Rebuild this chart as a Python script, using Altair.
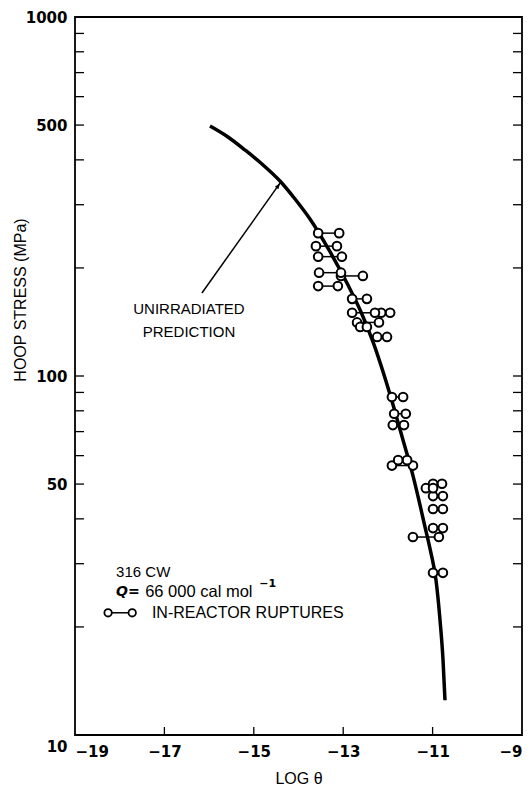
import altair as alt
import pandas as pd

# Unirradiated prediction curve (log theta vs hoop stress, MPa)
curve_logt = [-15.980, -15.577, -15.197, -14.817, -14.414, -14.078, -13.743, -13.318,
              -12.893, -12.602, -12.333, -12.065, -11.864, -11.662, -11.438, -11.170,
              -11.036, -10.924, -10.834, -10.767, -10.723]
curve_stress = [497.1, 463.3, 426.1, 389.5, 349.3, 311.2, 273.7, 224.4,
                179.2, 150.8, 124.4, 98.7, 81.4, 66.3, 52.7, 38.0,
                32.1, 27.0, 20.9, 16.2, 12.5]

# In-reactor ruptures: each pair joins a low and a high log-theta estimate
pair_lo = [-13.56, -13.61, -13.56, -13.54, -13.05, -13.56, -12.80, -12.80, -12.15,
           -12.69, -12.62, -12.24, -11.91, -11.86, -11.89, -11.91, -11.77, -11.15,
           -10.99, -10.99, -10.99, -10.99, -11.44, -10.99]
pair_hi = [-13.09, -13.14, -13.03, -13.05, -12.56, -13.12, -12.47, -12.29, -11.95,
           -12.20, -12.47, -12.02, -11.66, -11.60, -11.64, -11.44, -11.57, -10.99,
           -10.79, -10.77, -10.77, -10.77, -10.86, -10.77]
pair_stress = [250, 230, 215, 194, 190, 178, 164, 150, 150,
               141, 137, 128.5, 87.4, 78.5, 73.0, 56.3, 58.3, 48.7,
               50.1, 46.3, 42.6, 37.7, 35.6, 28.3]

# Axis ticks and labels
x_labels = [-19, -17, -15, -13, -11, -9]
x_ticks = [-17, -15, -13, -11]
y_labels = [10, 50, 100, 500, 1000]
y_ticks = [20, 30, 40, 50, 60, 70, 80, 90, 100, 200, 300, 400, 500, 600, 700, 800, 900]

W, H = 447, 718
NUM_FONT = "DejaVu Sans"
TXT_FONT = "Liberation Sans, Arial, sans-serif"

xscale = alt.Scale(domain=[-19, -9], nice=False, zero=False)
yscale = alt.Scale(type="log", domain=[10, 1000], nice=False)

curve_df = pd.DataFrame({"logt": curve_logt, "stress": curve_stress})
pairs_df = pd.DataFrame({"lo": pair_lo, "hi": pair_hi, "stress": pair_stress})
pts_df = pd.concat([
    pd.DataFrame({"logt": pair_lo, "stress": pair_stress}),
    pd.DataFrame({"logt": pair_hi, "stress": pair_stress}),
], ignore_index=True)

xax = alt.Axis(values=x_labels, format="d", ticks=False, domain=False, grid=False,
               labelFont=NUM_FONT, labelFontWeight="bold", labelFontSize=15,
               labelColor="black", labelPadding=9, title="LOG θ",
               titleFont=TXT_FONT, titleFontSize=16, titleFontWeight="normal",
               titleColor="black", titlePadding=11)
yax = alt.Axis(values=y_labels, format="d", ticks=False, domain=False, grid=False,
               labelFont=NUM_FONT, labelFontWeight="bold", labelFontSize=15,
               labelColor="black", labelPadding=8, title=None,
               labelOffset={"condition": {"test": "datum.value == 10", "value": 11},
                            "value": 0})

base_x = alt.X("logt:Q", scale=xscale, axis=xax)
base_y = alt.Y("stress:Q", scale=yscale, axis=yax)

curve = alt.Chart(curve_df).mark_line(color="black", strokeWidth=3.5,
                                      interpolate="monotone").encode(x=base_x, y=base_y)

links = alt.Chart(pairs_df).mark_rule(color="black", strokeWidth=1.5).encode(
    x=alt.X("lo:Q", scale=xscale), x2="hi:Q",
    y=alt.Y("stress:Q", scale=yscale))

circles = alt.Chart(pts_df).mark_point(shape="circle", size=75, filled=True,
                                       fill="white", stroke="black", strokeWidth=2,
                                       opacity=1).encode(
    x=alt.X("logt:Q", scale=xscale), y=alt.Y("stress:Q", scale=yscale))

# Inward tick marks on the frame
ytick_df = pd.DataFrame({"stress": y_ticks})
left_ticks = alt.Chart(ytick_df).mark_rule(color="black", strokeWidth=1.3).encode(
    y=alt.Y("stress:Q", scale=yscale), x=alt.value(0), x2=alt.value(9))
right_ticks = alt.Chart(ytick_df).mark_rule(color="black", strokeWidth=1.3).encode(
    y=alt.Y("stress:Q", scale=yscale), x=alt.value(W - 9), x2=alt.value(W))
xtick_df = pd.DataFrame({"logt": x_ticks})
bottom_ticks = alt.Chart(xtick_df).mark_rule(color="black", strokeWidth=1.3).encode(
    x=alt.X("logt:Q", scale=xscale), y=alt.value(H - 8), y2=alt.value(H))

# Y axis title
ytitle = alt.Chart(pd.DataFrame({"t": ["HOOP STRESS (MPa)"]})).mark_text(
    angle=270, font=TXT_FONT, fontSize=16, color="black").encode(
    text="t:N", x=alt.value(-54), y=alt.value(283))

# Annotation: unirradiated prediction with arrow
note_df = pd.DataFrame({"logt": [-16.45, -16.45], "stress": [153.7, 132.6],
                        "t": ["UNIRRADIATED", "PREDICTION"]})
note = alt.Chart(note_df).mark_text(font=TXT_FONT, fontSize=15, color="black",
                                    align="center", baseline="middle").encode(
    x=alt.X("logt:Q", scale=xscale), y=alt.Y("stress:Q", scale=yscale), text="t:N")

arrow_df = pd.DataFrame({"x0": [-16.16], "y0": [170.3], "x1": [-14.41], "y1": [345.0]})
arrow_line = alt.Chart(arrow_df).mark_rule(color="black", strokeWidth=1.5).encode(
    x=alt.X("x0:Q", scale=xscale), y=alt.Y("y0:Q", scale=yscale), x2="x1:Q", y2="y1:Q")
arrow_head = alt.Chart(arrow_df).mark_point(
    shape="M0,0 L-0.45,1.3 L0.45,1.3 Z", size=90, filled=True, color="black",
    opacity=1, angle=35).encode(
    x=alt.X("x1:Q", scale=xscale), y=alt.Y("y1:Q", scale=yscale))

# Legend block in the lower left
leg_a_df = pd.DataFrame({"logt": [-18.08], "stress": [28.4], "t": ["316 CW"]})
leg_a = alt.Chart(leg_a_df).mark_text(font=TXT_FONT, fontSize=15, color="black",
                                      align="left", baseline="middle").encode(
    x=alt.X("logt:Q", scale=xscale), y=alt.Y("stress:Q", scale=yscale), text="t:N")
leg_b_df = pd.DataFrame({"logt": [-17.43], "stress": [25.0], "t": ["66 000 cal mol"]})
leg_b = alt.Chart(leg_b_df).mark_text(font=TXT_FONT, fontSize=16.5, color="black",
                                      align="left", baseline="middle").encode(
    x=alt.X("logt:Q", scale=xscale), y=alt.Y("stress:Q", scale=yscale), text="t:N")
leg_c_df = pd.DataFrame({"logt": [-17.28], "stress": [21.9], "t": ["IN-REACTOR RUPTURES"]})
leg_c = alt.Chart(leg_c_df).mark_text(font=TXT_FONT, fontSize=16, color="black",
                                      align="left", baseline="middle").encode(
    x=alt.X("logt:Q", scale=xscale), y=alt.Y("stress:Q", scale=yscale), text="t:N")
q_df = pd.DataFrame({"logt": [-18.08], "stress": [25.0], "t": ["Q="]})
q_text = alt.Chart(q_df).mark_text(font="DejaVu Sans", fontSize=14, fontWeight="bold",
                                   fontStyle="italic", color="black", align="left",
                                   baseline="middle").encode(
    x=alt.X("logt:Q", scale=xscale), y=alt.Y("stress:Q", scale=yscale), text="t:N")
sup_df = pd.DataFrame({"logt": [-14.88], "stress": [26.4], "t": ["−1"]})
sup_text = alt.Chart(sup_df).mark_text(font="DejaVu Sans", fontSize=11, fontWeight="bold",
                                       color="black", align="left",
                                       baseline="middle").encode(
    x=alt.X("logt:Q", scale=xscale), y=alt.Y("stress:Q", scale=yscale), text="t:N")
leg_pair_df = pd.DataFrame({"lo": [-18.26], "hi": [-17.72], "stress": [21.9]})
leg_link = alt.Chart(leg_pair_df).mark_rule(color="black", strokeWidth=1.5).encode(
    x=alt.X("lo:Q", scale=xscale), x2="hi:Q", y=alt.Y("stress:Q", scale=yscale))
leg_pts_df = pd.DataFrame({"logt": [-18.26, -17.72], "stress": [21.9, 21.9]})
leg_pts = alt.Chart(leg_pts_df).mark_point(shape="circle", size=55, filled=True,
                                           fill="white", stroke="black", strokeWidth=1.8,
                                           opacity=1).encode(
    x=alt.X("logt:Q", scale=xscale), y=alt.Y("stress:Q", scale=yscale))

chart = alt.layer(
    curve, links, circles, left_ticks, right_ticks, bottom_ticks, ytitle,
    note, arrow_line, arrow_head, leg_a, leg_b, leg_c, q_text, sup_text,
    leg_link, leg_pts
).properties(
    width=W, height=H,
    autosize=alt.AutoSizeParams(type="none"),
    padding={"left": 75, "top": 17, "right": 9, "bottom": 55},
    background="white",
).configure_view(stroke="black", strokeWidth=1.8)

chart.save("out.html", embed_options={"renderer": "svg", "actions": False})
